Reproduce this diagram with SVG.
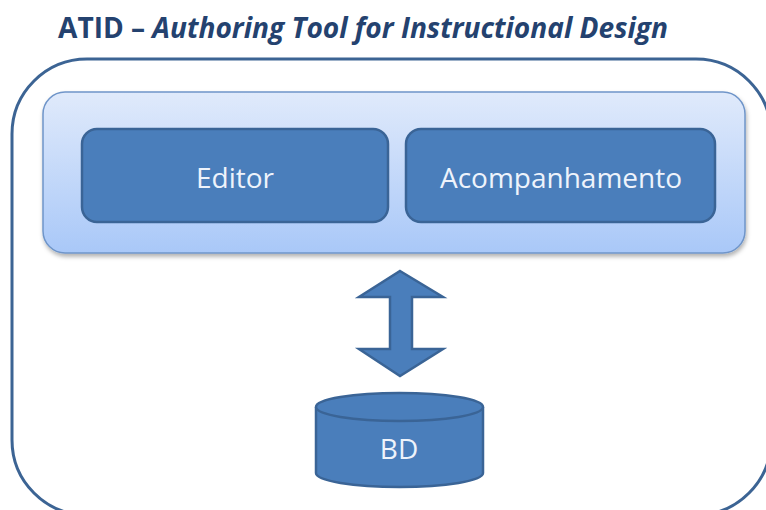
<svg xmlns="http://www.w3.org/2000/svg" width="766" height="510" viewBox="0 0 766 510">
<style>
.title{font-family:"Open Sans","DejaVu Sans",sans-serif;font-weight:bold;font-size:28px;fill:#24426F}
.mod{fill:#4A7EBB;stroke:#3A6496;stroke-width:2.5}
.lbl{font-family:"Open Sans","DejaVu Sans",sans-serif;font-size:28px;fill:#EEF3FB;text-anchor:middle}
</style>
<defs>
<linearGradient id="panel" x1="0" y1="0" x2="0" y2="1">
<stop offset="0" stop-color="#E0EAFB"/>
<stop offset="1" stop-color="#A9C8F8"/>
</linearGradient>
<filter id="sh" x="-5%" y="-10%" width="110%" height="130%">
<feDropShadow dx="1" dy="3" stdDeviation="2" flood-color="#000" flood-opacity="0.3"/>
</filter>
</defs>
<text class="title" x="58" y="38" textLength="610" lengthAdjust="spacingAndGlyphs">ATID – <tspan font-style="italic">Authoring Tool for Instructional Design</tspan></text>
<g id="frame">
<rect x="12" y="59" width="759" height="456" rx="75" fill="none" stroke="#3C6494" stroke-width="3"/>
</g>
<g id="panel-group">
<rect x="43" y="92" width="702" height="161" rx="22" fill="url(#panel)" stroke="#6F95C9" stroke-width="1.5" filter="url(#sh)"/>
</g>
<g id="editor">
<rect class="mod" x="82" y="129" width="306" height="93" rx="15"/>
<text class="lbl" x="235" y="188">Editor</text>
</g>
<g id="acompanhamento">
<rect class="mod" x="406" y="129" width="309" height="93" rx="15"/>
<text class="lbl" x="561" y="188">Acompanhamento</text>
</g>
<g id="connectors">
<polygon class="mod" stroke-width="1.5" points="400,271 443,297 412,297 412,349 443,349 400,376 359,349 390,349 390,297 359,297"/>
</g>
<g id="bd">
<path class="mod" stroke-width="2" d="M316,407 L316,473 A83.5,14 0 0 0 483,473 L483,407"/>
<ellipse class="mod" stroke-width="2" cx="399.5" cy="407" rx="83.5" ry="14"/>
<text class="lbl" x="399" y="459" font-size="25">BD</text>
</g>
</svg>
